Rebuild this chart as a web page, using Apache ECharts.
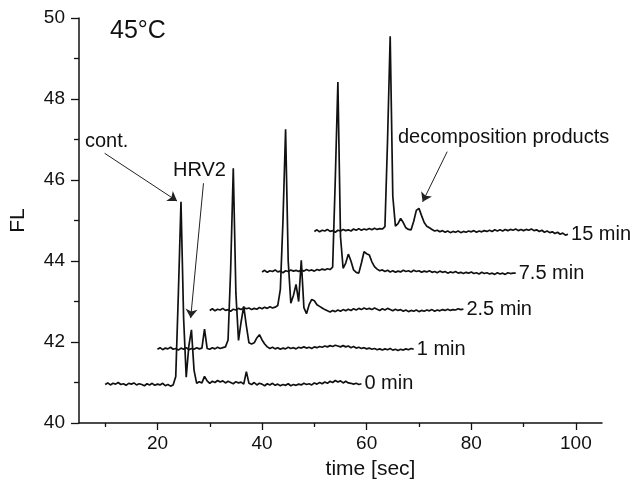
<!DOCTYPE html>
<html>
<head>
<meta charset="utf-8">
<script src="https://cdn.jsdelivr.net/npm/echarts@6/dist/echarts.min.js"></script>
<style>
  html, body { margin: 0; padding: 0; background: #fff; }
  #chart { width: 635px; height: 495px; }
</style>
</head>
<body>
<div id="chart"></div>
<script>
// sampling of every trace: one value each 0.5 s, starting at traceStart
const step = 0.5;
const traceNames = ["0 min", "1 min", "2.5 min", "7.5 min", "15 min"];
const traceStart = [10, 20, 30, 40, 50];

const fl0 = [
  40.95, 40.99, 40.94, 40.98, 40.96, 41.00, 40.95, 40.97, 40.93, 40.98,
  40.96, 40.99, 40.94, 40.97, 40.95, 40.92, 40.97, 40.94, 40.98, 40.93,
  40.96, 40.94, 40.98, 40.92, 40.95, 40.91, 40.94, 41.15, 43.2, 45.46,
  42.6, 41.13, 41.9, 42.3, 41.3, 40.98, 41.02, 40.99, 41.15, 41.04,
  40.98, 41.03, 41.0, 41.05, 41.01, 41.04, 40.99, 41.03, 41.0, 40.97,
  41.02, 40.99, 41.01, 40.96, 41.27, 40.98, 40.95, 41.0, 40.94, 40.98,
  40.96, 40.92, 40.97, 40.94, 40.98, 40.93, 40.96, 40.92, 40.95, 40.93,
  40.97, 40.92, 40.95, 40.93, 40.96, 40.94, 40.98, 40.95, 40.97, 40.94,
  40.99, 40.96, 41.0, 40.97, 41.01, 40.98, 41.03, 41.0, 41.05, 41.01,
  41.04, 40.99, 41.03, 40.99, 40.98, 40.96, 40.98, 40.95, 40.97
];
const fl1 = [
  41.82, 41.86, 41.81, 41.85, 41.83, 41.87, 41.82, 41.84, 41.80, 41.85,
  41.82, 41.86, 41.81, 41.84, 41.82, 41.86, 41.83, 41.85, 42.32, 41.84,
  41.82, 41.86, 41.83, 41.87, 41.84, 41.86, 41.88, 42.05, 43.8, 46.29,
  43.2, 42.04, 42.5, 42.88, 42.4, 41.98, 41.95, 41.98, 42.1, 42.18,
  42.05, 41.95, 41.88, 41.84, 41.87, 41.83, 41.86, 41.82, 41.85, 41.83,
  41.87, 41.84, 41.86, 41.83, 41.87, 41.85, 41.88, 41.85, 41.87, 41.84,
  41.88, 41.86, 41.89, 41.87, 41.9, 41.88, 41.91, 41.89, 41.92, 41.9,
  41.88, 41.91, 41.88, 41.9, 41.86, 41.89, 41.85, 41.87, 41.84, 41.86,
  41.83, 41.85, 41.82, 41.84, 41.81, 41.83, 41.8, 41.83, 41.81, 41.84,
  41.8, 41.82, 41.79, 41.82, 41.8, 41.83, 41.81, 41.84, 41.82
];
const fl2_5 = [
  42.78, 42.82, 42.77, 42.81, 42.79, 42.83, 42.78, 42.8, 42.76, 42.81,
  42.79, 42.83, 42.8, 42.85, 42.82, 42.84, 42.8, 42.83, 42.81, 42.85,
  42.82, 42.86, 42.83, 42.87, 42.84, 42.86, 42.9, 43.3, 45.0, 47.25,
  44.0, 42.96, 43.15, 43.42, 43.0, 44.02, 42.85, 42.7, 42.92, 43.05,
  43.02, 42.92, 42.88, 42.84, 42.8, 42.77, 42.74, 42.78, 42.75, 42.79,
  42.76, 42.8, 42.77, 42.81, 42.78, 42.82, 42.79, 42.83, 42.8, 42.84,
  42.81, 42.83, 42.8, 42.84, 42.81, 42.78, 42.82, 42.79, 42.83, 42.8,
  42.77, 42.81, 42.78, 42.8, 42.76, 42.79, 42.75, 42.78, 42.76, 42.79,
  42.75, 42.78, 42.76, 42.79, 42.77, 42.8, 42.76, 42.79, 42.77, 42.8,
  42.78, 42.81, 42.78, 42.8, 42.79, 42.82, 42.8, 42.81
];
const fl7_5 = [
  43.73, 43.77, 43.72, 43.76, 43.74, 43.78, 43.73, 43.75, 43.71, 43.76,
  43.74, 43.78, 43.75, 43.77, 43.74, 43.78, 43.75, 43.79, 43.76, 43.78,
  43.75, 43.79, 43.77, 43.8, 43.78, 43.81, 43.79, 43.85, 46.0, 48.42,
  44.6, 43.82, 43.95, 44.17, 44.0, 43.78, 43.72, 43.7, 43.95, 44.23,
  44.18, 44.15, 43.98, 43.86, 43.8, 43.76, 43.78, 43.74, 43.77, 43.73,
  43.76, 43.72, 43.75, 43.73, 43.77, 43.74, 43.76, 43.73, 43.77, 43.74,
  43.76, 43.72, 43.75, 43.73, 43.76, 43.72, 43.74, 43.71, 43.75, 43.72,
  43.74, 43.7, 43.73, 43.71, 43.74, 43.7, 43.72, 43.69, 43.72, 43.7,
  43.73, 43.69, 43.71, 43.68, 43.72, 43.69, 43.71, 43.68, 43.7, 43.67,
  43.71, 43.68, 43.7, 43.67, 43.71, 43.69, 43.7, 43.7
];
const fl15 = [
  44.73, 44.77, 44.72, 44.76, 44.74, 44.78, 44.73, 44.75, 44.71, 44.76,
  44.74, 44.78, 44.75, 44.77, 44.74, 44.79, 44.76, 44.8, 44.76, 44.79,
  44.77, 44.8, 44.77, 44.81, 44.78, 44.8, 44.79, 44.85, 47.0, 49.55,
  45.6, 44.86, 44.92, 45.05, 44.95, 44.82, 44.78, 44.77, 44.98, 45.25,
  45.3, 45.12, 44.95, 44.86, 44.82, 44.78, 44.74, 44.76, 44.72, 44.75,
  44.71, 44.74, 44.7, 44.73, 44.71, 44.74, 44.7, 44.73, 44.71, 44.74,
  44.72, 44.75, 44.71, 44.74, 44.72, 44.75, 44.73, 44.76, 44.73, 44.77,
  44.74, 44.77, 44.74, 44.78, 44.75, 44.78, 44.76, 44.79, 44.75, 44.78,
  44.75, 44.78, 44.76, 44.79, 44.75, 44.77, 44.73, 44.76, 44.71, 44.74,
  44.7, 44.72, 44.68, 44.71, 44.66, 44.69, 44.64, 44.66
];
const traces = [fl0, fl1, fl2_5, fl7_5, fl15];

const xMajorTicks = [20, 40, 60, 80, 100];
const xMinorTicks = [10, 30, 50, 70, 90];

const FONT = "'Liberation Sans', Arial, sans-serif";
const INK = "#111";

const chart = echarts.init(document.getElementById("chart"));

const series = traces.map((vals, k) => ({
  type: "line",
  name: traceNames[k],
  data: vals.map((v, i) => [traceStart[k] + i * step, v]),
  symbol: "none",
  lineStyle: { color: INK, width: 1.7 },
  endLabel: {
    show: true,
    formatter: "{a}",
    color: INK,
    fontSize: 20,
    fontFamily: FONT,
    distance: 3
  }
}));

// arrows pointing at the peaks
series[0].markLine = {
  silent: true,
  symbol: ["none", "arrow"],
  symbolSize: 9,
  label: { show: false },
  lineStyle: { color: "#222", width: 1, type: "solid" },
  data: [
    [{ coord: [9.9, 46.66] }, { coord: [23.75, 45.48] }],
    [{ coord: [28.8, 45.92] }, { coord: [26.35, 42.59] }],
    [{ coord: [75.4, 46.7] }, { coord: [70.7, 45.46] }]
  ]
};

const option = {
  animation: false,
  backgroundColor: "#fff",
  grid: { left: 76, right: 33, top: 18, bottom: 72 },
  xAxis: [
    {
      type: "value",
      min: 5,
      max: 105,
      name: "time [sec]",
      nameLocation: "middle",
      nameGap: 36,
      nameTextStyle: { color: INK, fontSize: 21, fontFamily: FONT, padding: [0, 0, 0, 60] },
      axisLine: { lineStyle: { color: INK, width: 1.5 } },
      axisTick: { show: true, length: 7, customValues: xMajorTicks, lineStyle: { color: INK, width: 1.3 } },
      axisLabel: { customValues: xMajorTicks, color: INK, fontSize: 19, fontFamily: FONT, margin: 11 },
      splitLine: { show: false }
    },
    {
      type: "value",
      min: 5,
      max: 105,
      position: "bottom",
      axisLine: { show: false },
      axisTick: { show: true, length: 4, customValues: xMinorTicks, lineStyle: { color: INK, width: 1.3 } },
      axisLabel: { show: false },
      splitLine: { show: false }
    }
  ],
  yAxis: {
    type: "value",
    min: 40,
    max: 50,
    interval: 2,
    name: "FL",
    nameLocation: "middle",
    nameGap: 50,
    nameTextStyle: { color: INK, fontSize: 21, fontFamily: FONT },
    axisLine: { show: true, lineStyle: { color: INK, width: 1.5 } },
    axisTick: { show: true, length: 8, lineStyle: { color: INK, width: 1.3 } },
    minorTick: { show: true, splitNumber: 2, length: 5, lineStyle: { color: INK, width: 1.3 } },
    axisLabel: { color: INK, fontSize: 19, fontFamily: FONT, margin: 14 },
    splitLine: { show: false }
  },
  graphic: [
    { type: "text", left: 110, top: 19, style: { text: "45°C", font: "25px " + FONT, fill: INK } },
    { type: "text", left: 85, top: 131, style: { text: "cont.", font: "20px " + FONT, fill: INK } },
    { type: "text", left: 173, top: 160, style: { text: "HRV2", font: "20px " + FONT, fill: INK } },
    { type: "text", left: 398, top: 127, style: { text: "decomposition products", font: "20px " + FONT, fill: INK } }
  ],
  series: series
};

chart.setOption(option);
</script>
</body>
</html>
